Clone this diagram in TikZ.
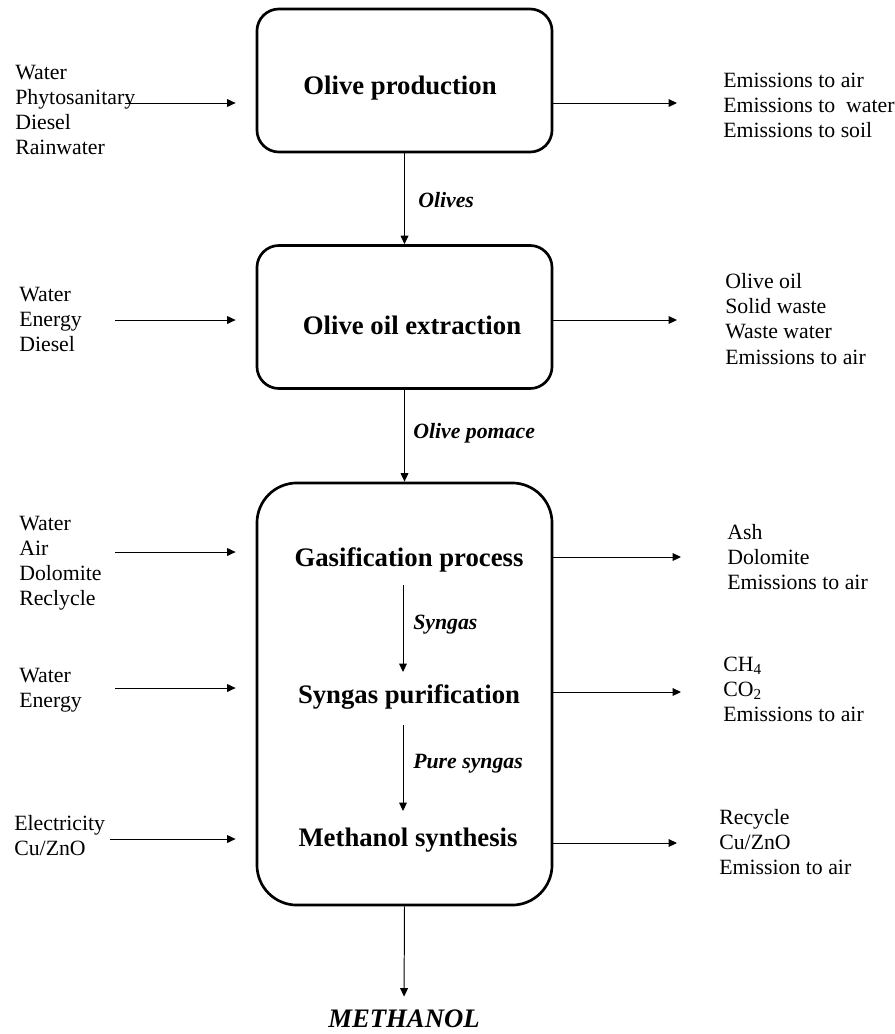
\documentclass[tikz,border=0pt]{standalone}
\usepackage{fontspec}
\setmainfont{Liberation Serif}
\usetikzlibrary{arrows.meta}
\tikzset{
    stage/.style = {draw, line width = 1.9pt, rounded corners = 0.55cm,
        minimum width = 7.375cm, minimum height = 3.575cm},
    step title/.style = {font = \fontsize{19}{22}\selectfont\bfseries},
    flow/.style = {-{Triangle[length = 6pt, width = 5.5pt]}, line width = 0.7pt},
    items/.style = {align = left, anchor = west, inner sep = 0pt,
        font = \fontsize{15.5}{17.8}\selectfont},
    stream/.style = {anchor = west, inner sep = 0pt,
        font = \fontsize{15.5}{17.8}\selectfont\bfseries\itshape}
}
\begin{document}
\begin{tikzpicture}[x = 0.025cm, y = -0.025cm]
        \useasboundingbox (0,0) rectangle (895,1034);
        % process boxes
        \node[stage] (prod) at (404.5,80.5) {};
        \node[stage] (extr) at (404.5,317) {};
        \node[stage, minimum height = 10.55cm, rounded corners = 1cm] (plant) at (404.5,694) {};
        \node[step title] (prodt) at (400,88) {Olive production};
        \node[step title] (extrt) at (412,325) {Olive oil extraction};
        \node[step title] (gasi) at (409,560) {Gasification process};
        \node[step title] (puri) at (409,697) {Syngas purification};
        \node[step title] (synt) at (408,840) {Methanol synthesis};
        \node[step title, font = \fontsize{19}{22}\selectfont\bfseries\itshape] (meoh) at (404,1019) {METHANOL};
        % main line
        \draw[flow] (prod.south) -- (extr.north);
        \draw[flow] (extr.south) -- (plant.north);
        \coordinate (s1) at (403,585);
        \coordinate (s2) at (403,672);
        \coordinate (p1) at (403,725);
        \coordinate (p2) at (403,811);
        \draw[flow] (s1) -- (s2);
        \draw[flow] (p1) -- (p2);
        \draw[flow, shorten >= 6pt] (plant.south) -- (meoh.north);
        \begin{scope}[every node/.append style = {stream}]
            \node (olives) at (418,200) {Olives};
            \node (pomace) at (413,433) {Olive pomace};
            \node (syngas) at (413,625) {Syngas};
            \node (pure) at (413,764) {Pure syngas};
        \end{scope}
        % inputs
        \begin{scope}[every node/.append style = {items}]
            \node (in1) at (15,110) {Water\\Phytosanitary\\Diesel\\Rainwater};
            \node (in2) at (19,319) {Water\\Energy\\Diesel};
            \node (in3) at (19,563) {Water\\Air\\Dolomite\\Reclycle};
            \node (in4) at (19,690) {Water\\Energy};
            \node (in5) at (14,836) {Electricity\\Cu/ZnO};
        \end{scope}
        \coordinate (a1) at (125,103);
        \coordinate (a2) at (115,320);
        \coordinate (a3) at (115,552);
        \coordinate (a4) at (115,688);
        \coordinate (a5) at (110,839);
        \begin{scope}[shorten >= 0.5cm]
            \draw[flow] (a1) -- (a1 -| prod.west);
            \draw[flow] (a2) -- (a2 -| extr.west);
            \draw[flow] (a3) -- (a3 -| plant.west);
            \draw[flow] (a4) -- (a4 -| plant.west);
            \draw[flow] (a5) -- (a5 -| plant.west);
        \end{scope}
        % outputs
        \begin{scope}[every node/.append style = {items}]
            \node (out1) at (723,105) {Emissions to air\\Emissions to\ \ water\\Emissions to soil};
            \node (out2) at (725,319) {Olive oil\\Solid waste\\Waste water\\Emissions to air};
            \node (out3) at (727,557) {Ash\\Dolomite\\Emissions to air};
            \node (out4) at (723,689) {CH\textsubscript{4}\\CO\textsubscript{2}\\Emissions to air};
            \node (out5) at (719,842) {Recycle\\Cu/ZnO\\Emission to air};
        \end{scope}
        \coordinate (b1) at (677,103);
        \coordinate (b2) at (677,320);
        \coordinate (b3) at (681,557);
        \coordinate (b4) at (681,692);
        \coordinate (b5) at (677,843);
        \draw[flow] (b1 -| prod.east) -- (b1);
        \draw[flow] (b2 -| extr.east) -- (b2);
        \draw[flow] (b3 -| plant.east) -- (b3);
        \draw[flow] (b4 -| plant.east) -- (b4);
        \draw[flow] (b5 -| plant.east) -- (b5);
    \end{tikzpicture}
\end{document}
